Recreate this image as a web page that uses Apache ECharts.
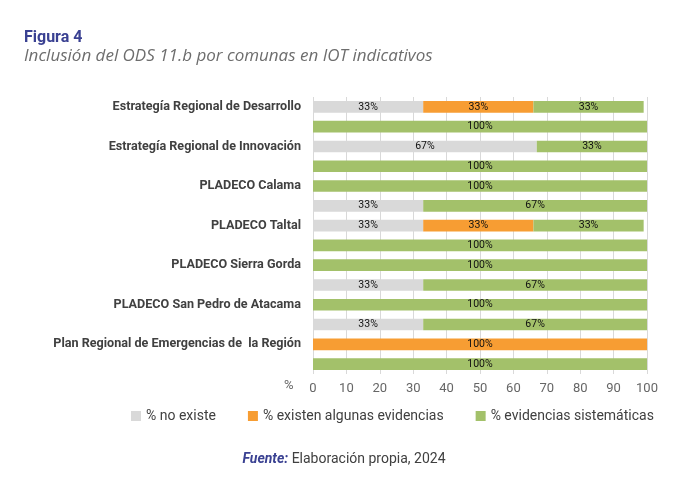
<!DOCTYPE html>
<html>
<head>
<meta charset="utf-8">
<script src="https://cdn.jsdelivr.net/npm/echarts@6/dist/echarts.min.js"></script>
<style>
  html, body { margin: 0; padding: 0; background: #fff; }
  #main { width: 688px; height: 478px; }
</style>
</head>
<body>
<div id="main"></div>
<script>
// categories: one label every other row (as in the original)
var categories = [
    'Estrategía Regional de Desarrollo', '',
    'Estrategía Regional de Innovación', '',
    'PLADECO Calama', '',
    'PLADECO Taltal', '',
    'PLADECO Sierra Gorda', '',
    'PLADECO San Pedro de Atacama', '',
    'Plan Regional de Emergencias de  la Región', ''
];
var noExiste   = [33, null, 67, null, null, 33, 33, null, null, 33, null, 33, null, null];
var algunas    = [33, null, null, null, null, null, 33, null, null, null, null, null, 100, null];
var sistematic = [33, 100, 33, 100, 100, 67, 33, 100, 100, 67, 100, 67, null, 100];
var seriesNames = ['% no existe', '% existen algunas evidencias', '% evidencias sistemáticas'];

window.onload = function () {
    var myChart = echarts.init(document.getElementById('main'));
    var font = 'Roboto, "Noto Sans", sans-serif';

    function barLabel() {
        return {
            show: true,
            position: 'inside',
            color: '#111',
            fontSize: 10.5,
            fontFamily: '"Liberation Sans Narrow", Roboto, sans-serif',
            formatter: function (p) { return p.value ? p.value + '%' : ''; }
        };
    }

    var option = {
        textStyle: { fontFamily: font },
        title: [
            {
                text: 'Figura 4',
                left: 19, top: 25,
                textStyle: { color: '#3a4192', fontSize: 16, fontWeight: 'bold', fontFamily: font }
            },
            {
                text: 'Inclusión del ODS 11.b por comunas en IOT indicativos',
                left: 19, top: 43,
                textStyle: { color: '#6d6d6d', fontSize: 17, fontStyle: 'italic', fontWeight: 'normal', fontFamily: '"Open Sans", Roboto, sans-serif' }
            },
            {
                text: '{b|Fuente:} Elaboración propia, 2024',
                left: 'center', top: 447,
                textStyle: {
                    color: '#404040', fontSize: 14, fontWeight: 'normal', fontFamily: font,
                    rich: { b: { color: '#3a4192', fontStyle: 'italic', fontWeight: 'bold', fontSize: 14, fontFamily: font } }
                }
            }
        ],
        legend: {
            data: seriesNames,
            top: 404,
            left: 126,
            icon: 'rect',
            itemWidth: 10,
            itemHeight: 10,
            itemGap: 32,
            textStyle: { color: '#404040', fontSize: 14, fontFamily: font }
        },
        grid: {
            left: 313,
            right: 41,
            top: 97,
            bottom: 104
        },
        xAxis: {
            type: 'value',
            min: 0,
            max: 100,
            interval: 10,
            axisLine: { show: false },
            axisTick: { show: false },
            splitLine: { show: true, lineStyle: { color: '#d9d9d9', width: 1 } },
            axisLabel: { color: '#666', fontSize: 13, margin: 8, fontFamily: font }
        },
        yAxis: {
            type: 'category',
            inverse: true,
            data: categories,
            axisLine: { show: false },
            axisTick: { show: false },
            axisLabel: {
                interval: 0,
                color: '#404040',
                fontSize: 12.6,
                fontWeight: 'bold',
                margin: 12,
                fontFamily: font
            }
        },
        graphic: [
            {
                type: 'text',
                left: 284, top: 379,
                style: { text: '%', fill: '#666', fontSize: 13, fontFamily: font }
            }
        ],
        series: [
            {
                name: seriesNames[0], type: 'bar', stack: 'total',
                barCategoryGap: '41%',
                itemStyle: { color: '#d9d9d9' },
                label: barLabel(),
                data: noExiste
            },
            {
                name: seriesNames[1], type: 'bar', stack: 'total',
                itemStyle: { color: '#f79d33' },
                label: barLabel(),
                data: algunas
            },
            {
                name: seriesNames[2], type: 'bar', stack: 'total',
                itemStyle: { color: '#a3c16a' },
                label: barLabel(),
                data: sistematic
            }
        ]
    };
    option && myChart.setOption(option);
};
</script>
</body>
</html>
